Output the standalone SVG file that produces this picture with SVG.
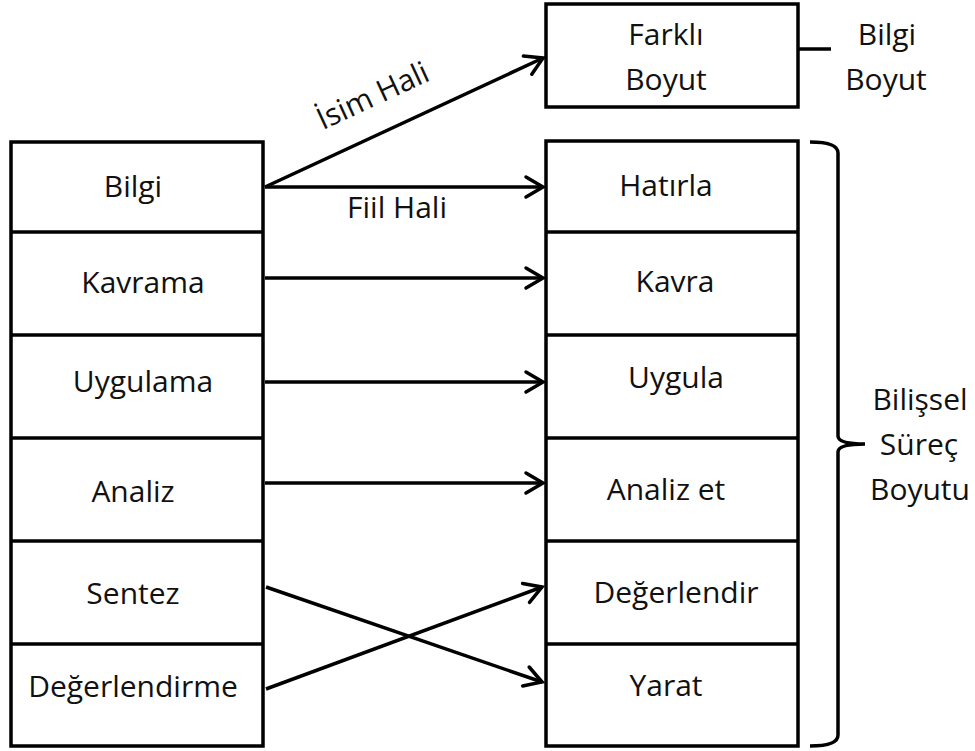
<svg xmlns="http://www.w3.org/2000/svg" width="975" height="751" viewBox="0 0 975 751">
<defs>
<style>
.box{fill:#fff;stroke:#000;stroke-width:3.5}
.div{stroke:#000;stroke-width:3.5}
.t{font-family:"Open Sans","Noto Sans",sans-serif;font-size:30px;fill:#111;text-anchor:middle}
.c{stroke:#000;stroke-width:3.5;fill:none}
</style>
<marker id="arr" markerUnits="userSpaceOnUse" markerWidth="30" markerHeight="30" viewBox="-20 -15 25 30" refX="0" refY="0" orient="auto">
<path d="M-17,-10 L0,0 L-17,10" fill="none" stroke="#000" stroke-width="3.5" stroke-linecap="round" stroke-linejoin="miter"/>
</marker>
</defs>
<rect width="975" height="751" fill="#fff"/>

<g id="left-column">
<rect class="box" x="11" y="142" width="252" height="604"/>
<line class="div" x1="11" y1="232" x2="263" y2="232"/>
<line class="div" x1="11" y1="335" x2="263" y2="335"/>
<line class="div" x1="11" y1="438" x2="263" y2="438"/>
<line class="div" x1="11" y1="541" x2="263" y2="541"/>
<line class="div" x1="11" y1="644" x2="263" y2="644"/>
</g>
<g id="node-bilgi"><text class="t" x="133" y="197">Bilgi</text></g>
<g id="node-kavrama"><text class="t" x="143" y="293">Kavrama</text></g>
<g id="node-uygulama"><text class="t" x="143" y="392">Uygulama</text></g>
<g id="node-analiz"><text class="t" x="133" y="502">Analiz</text></g>
<g id="node-sentez"><text class="t" x="133" y="604">Sentez</text></g>
<g id="node-degerlendirme"><text class="t" x="133" y="697">Değerlendirme</text></g>

<g id="right-column">
<rect class="box" x="546" y="141" width="252" height="605"/>
<line class="div" x1="546" y1="232" x2="798" y2="232"/>
<line class="div" x1="546" y1="335" x2="798" y2="335"/>
<line class="div" x1="546" y1="438" x2="798" y2="438"/>
<line class="div" x1="546" y1="541" x2="798" y2="541"/>
<line class="div" x1="546" y1="644" x2="798" y2="644"/>
</g>
<g id="node-hatirla"><text class="t" x="666" y="196">Hatırla</text></g>
<g id="node-kavra"><text class="t" x="675" y="292">Kavra</text></g>
<g id="node-uygula"><text class="t" x="676" y="388">Uygula</text></g>
<g id="node-analiz-et"><text class="t" x="666" y="500">Analiz et</text></g>
<g id="node-degerlendir"><text class="t" x="676" y="603">Değerlendir</text></g>
<g id="node-yarat"><text class="t" x="666" y="696">Yarat</text></g>

<g id="node-farkli-boyut">
<rect class="box" x="546" y="4" width="252" height="103"/>
<text class="t" x="666" y="45">Farklı</text>
<text class="t" x="666" y="90">Boyut</text>
</g>
<g id="label-bilgi-boyut">
<line class="c" x1="798" y1="49" x2="831" y2="49"/>
<text class="t" x="887" y="45">Bilgi</text>
<text class="t" x="886" y="90">Boyut</text>
</g>
<g id="label-bilissel">
<path class="c" d="M810,142 Q838,142 838,153 L838,436 Q838,444 865,444 Q838,444 838,452 L838,735 Q838,746 810,746"/>
<text class="t" x="920" y="410">Bilişsel</text>
<text class="t" x="919" y="455">Süreç</text>
<text class="t" x="920" y="500">Boyutu</text>
</g>

<g id="connectors">
<line class="c" x1="265" y1="187" x2="543" y2="58" marker-end="url(#arr)"/>
<line class="c" x1="265" y1="187" x2="543" y2="187" marker-end="url(#arr)"/>
<line class="c" x1="265" y1="278" x2="543" y2="278" marker-end="url(#arr)"/>
<line class="c" x1="265" y1="382" x2="543" y2="382" marker-end="url(#arr)"/>
<line class="c" x1="265" y1="483" x2="543" y2="483" marker-end="url(#arr)"/>
<line class="c" x1="266" y1="587" x2="542" y2="682" marker-end="url(#arr)"/>
<line class="c" x1="266" y1="689" x2="542" y2="587" marker-end="url(#arr)"/>
<text class="t" transform="translate(377,105) rotate(-25)" x="0" y="0">İsim Hali</text>
<text class="t" x="397" y="218">Fiil Hali</text>
</g>
</svg>
